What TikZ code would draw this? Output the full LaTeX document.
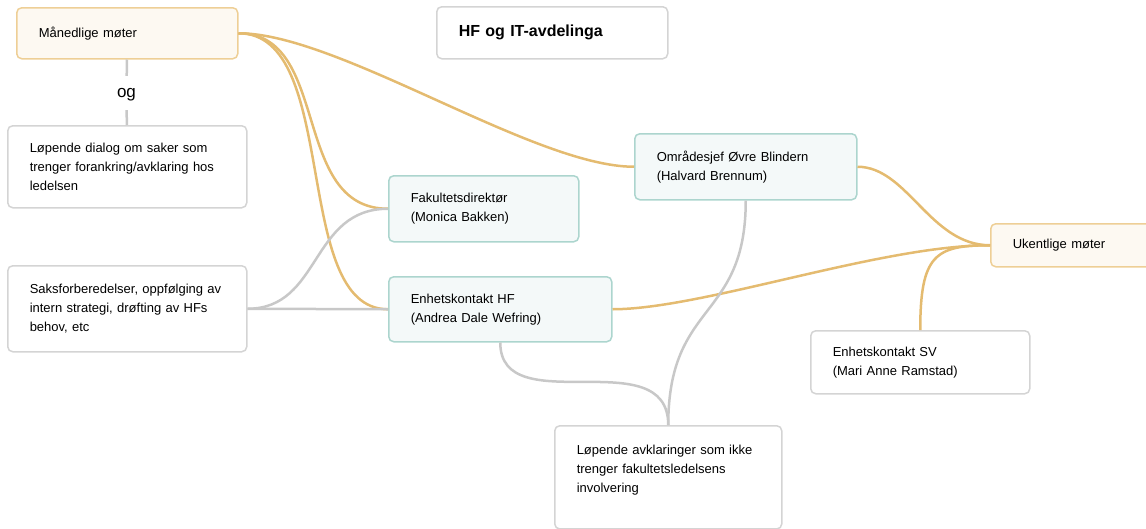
\documentclass[tikz,border=0pt]{standalone}
\usepackage{fontspec}
\setmainfont{Liberation Sans}
\definecolor{goldline}{RGB}{228,187,112}
\definecolor{greyline}{RGB}{200,200,200}
\definecolor{boxgrey}{RGB}{212,212,212}
\definecolor{mfill}{RGB}{253,249,242}
\definecolor{mborder}{RGB}{238,207,150}
\definecolor{tfill}{RGB}{244,249,249}
\definecolor{tborder}{RGB}{172,213,206}
\tikzset{
	box/.style={draw=boxgrey,line width=1.5pt,rounded corners=5pt,fill=white,anchor=north west,align=left,inner xsep=22pt,font=\fontsize{13}{19}\selectfont},
	mbox/.style={box,draw=mborder,fill=mfill},
	tbox/.style={box,draw=tborder,fill=tfill},
	gold/.style={draw=goldline,line width=2.5pt},
	grey/.style={draw=greyline,line width=2.5pt}
}

\begin{document}
\begin{tikzpicture}[x=1pt,y=-1pt]
					\useasboundingbox (0,0) rectangle (1146,528);
					\node[mbox,text width=177pt,minimum height=51pt] (mon) at (16,7) {Månedlige møter};
					\node[box,text width=187pt,minimum height=52pt,font=\fontsize{16}{19}\selectfont\bfseries] (hfit) at (436,6) {HF og IT-avdelinga};
					\node[inner sep=0pt,minimum height=34pt,text depth=0pt,font=\fontsize{17}{19}\selectfont] (og) at (126.5,93) {og};
					\node[box,text width=195pt,minimum height=82pt] (dialog) at (7,125) {Løpende dialog om saker som\\trenger forankring/avklaring hos\\ledelsen};
					\node[box,text width=195pt,minimum height=86pt] (saks) at (7,265) {Saksforberedelser, oppfølging av\\intern strategi, drøfting av HFs\\behov, etc};
					\node[tbox,text width=146pt,minimum height=66pt] (fak) at (388,175) {Fakultetsdirektør\\(Monica Bakken)};
					\node[tbox,text width=179pt,minimum height=65pt] (ehf) at (388,276) {Enhetskontakt HF\\(Andrea Dale Wefring)};
					\node[tbox,text width=178pt,minimum height=66pt] (omr) at (634,133) {Områdesjef Øvre Blindern\\(Halvard Brennum)};
					\node[mbox,text width=118pt,minimum height=43pt] (uke) at (990,223) {Ukentlige møter};
					\node[box,text width=175pt,minimum height=63pt] (esv) at (810,330) {Enhetskontakt SV\\(Mari Anne Ramstad)};
					\node[box,text width=183pt,minimum height=103pt,inner ysep=19.4pt,text depth=55pt] (avk) at (554,425) {Løpende avklaringer som ikke\\trenger fakultetsledelsens\\involvering};
					\draw[grey] (mon) -- (og);
					\draw[grey] (og) -- (dialog);
					\draw[gold] (mon.east) .. controls +(100,0) and +(-100,0) .. (omr.west);
					\draw[gold] (mon.east) .. controls +(93,0) and +(-98,0) .. (fak.west);
					\draw[gold] (mon.east) .. controls +(103,0) and +(-98,0) .. (ehf.west);
					\draw[gold] (omr.east) .. controls +(50,0) and +(-60,0) .. (uke.west);
					\draw[gold] (ehf.east) .. controls +(90,0) and +(-110,0) .. (uke.west);
					\draw[gold] (esv.north) .. controls +(0,-75) and +(-55,0) .. (uke.west);
					\draw[grey] (saks.east) .. controls +(74,0) and +(-78,0) .. (fak.west);
					\draw[grey] (saks.east) -- (ehf.west);
					\draw[grey] (omr.south) .. controls +(0,121) and +(0,-125) .. (avk.north);
					\draw[grey] (ehf.south) .. controls +(0,80) and +(0,-85) .. (avk.north);
				\end{tikzpicture}
\end{document}
